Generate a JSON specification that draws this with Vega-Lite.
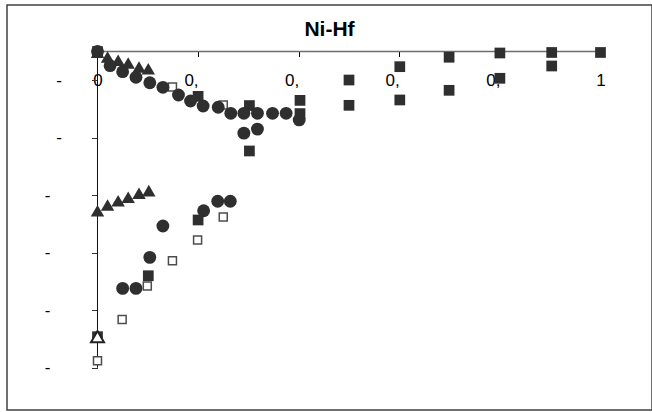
{
  "$schema": "https://vega.github.io/schema/vega-lite/v6.json",
  "width": 645,
  "height": 405,
  "autosize": {"type": "none"},
  "padding": {"left": 7, "top": 5, "right": 0, "bottom": 2},
  "background": "white",
  "title": {
    "text": "Ni-Hf",
    "font": "Liberation Sans",
    "fontSize": 21,
    "fontWeight": "bold",
    "color": "black",
    "anchor": "middle",
    "frame": "group",
    "baseline": "alphabetic",
    "offset": -30,
    "dy": 22
  },
  "config": {
    "view": {"stroke": "#404040", "strokeWidth": 1.5}
  },
  "datasets": {
    "xline": [{"x": 0, "x2": 1, "y": 0}],
    "yline": [{"x": 0, "y": 0, "y2": -55}],
    "sq": [
      {"x": 0, "y": 0}, {"x": 0.2, "y": -7.8}, {"x": 0.302, "y": -9.4}, {"x": 0.302, "y": -17.3},
      {"x": 0.4026, "y": -8.5}, {"x": 0.4026, "y": -10.8}, {"x": 0.5, "y": -4.96}, {"x": 0.5, "y": -9.36},
      {"x": 0.601, "y": -2.64}, {"x": 0.601, "y": -8.43}, {"x": 0.699, "y": -1.0}, {"x": 0.699, "y": -6.75},
      {"x": 0.8, "y": -0.26}, {"x": 0.8, "y": -4.66}, {"x": 0.903, "y": -0.17}, {"x": 0.903, "y": -2.52},
      {"x": 1.0, "y": -0.17}, {"x": 0.101, "y": -39.0}, {"x": 0.2, "y": -29.3}, {"x": 0, "y": -49.6}
    ],
    "osq": [
      {"x": 0.149, "y": -6.17}, {"x": 0.25, "y": -9.3}, {"x": 0, "y": -53.8}, {"x": 0.049, "y": -46.6},
      {"x": 0.099, "y": -40.8}, {"x": 0.149, "y": -36.4}, {"x": 0.199, "y": -32.8}, {"x": 0.25, "y": -28.8}
    ],
    "tri": [
      {"x": 0, "y": -0.1}, {"x": 0.02, "y": -0.96}, {"x": 0.041, "y": -1.53}, {"x": 0.061, "y": -2.0},
      {"x": 0.0825, "y": -2.7}, {"x": 0.101, "y": -3.0},
      {"x": 0, "y": -27.7}, {"x": 0.02, "y": -26.7}, {"x": 0.041, "y": -25.95}, {"x": 0.061, "y": -25.35},
      {"x": 0.0825, "y": -24.66}, {"x": 0.102, "y": -24.2}
    ],
    "circ": [
      {"x": 0, "y": 0}, {"x": 0.025, "y": -2.47}, {"x": 0.05, "y": -3.51}, {"x": 0.0765, "y": -4.49},
      {"x": 0.104, "y": -5.43}, {"x": 0.13, "y": -6.23}, {"x": 0.161, "y": -7.57}, {"x": 0.185, "y": -8.61},
      {"x": 0.21, "y": -9.48}, {"x": 0.24, "y": -9.7}, {"x": 0.265, "y": -10.75}, {"x": 0.291, "y": -10.75},
      {"x": 0.318, "y": -10.75}, {"x": 0.348, "y": -10.75}, {"x": 0.375, "y": -10.75}, {"x": 0.401, "y": -11.9},
      {"x": 0.291, "y": -14.2}, {"x": 0.318, "y": -13.5},
      {"x": 0.05, "y": -41.2}, {"x": 0.0765, "y": -41.2}, {"x": 0.104, "y": -35.8}, {"x": 0.13, "y": -30.35},
      {"x": 0.211, "y": -27.7}, {"x": 0.239, "y": -26.05}, {"x": 0.264, "y": -26.05}
    ],
    "otri": [
      {"x": 0, "y": -49.6}
    ]
  },
  "encoding": {
    "x": {
      "field": "x", "type": "quantitative",
      "scale": {"domain": [-0.17992, 1.10239], "nice": false, "zero": false},
      "axis": {
        "title": null, "grid": false, "domain": false,
        "orient": "bottom", "offset": -358.5,
        "values": [0, 0.2, 0.4, 0.6, 0.8, 1],
        "tickSize": 5, "tickColor": "black", "tickWidth": 1,
        "labelFont": "Liberation Sans", "labelFontSize": 17, "labelColor": "black",
        "labelPadding": 16, "labelFlush": false, "labelOverlap": false, "labelBound": false,
        "labelExpr": "datum.value == 0 ? '0' : (datum.value == 1 ? '1' : '0,')",
        "labelAlign": {"condition": {"test": "datum.value == 0 || datum.value == 1", "value": "center"}, "value": "right"}
      }
    },
    "y": {
      "field": "y", "type": "quantitative",
      "scale": {"domain": [-62.35, 8.087], "nice": false, "zero": false},
      "axis": {
        "title": null, "grid": false, "domain": false,
        "orient": "left", "offset": -90.5,
        "values": [-5, -15, -25, -35, -45, -55],
        "tickSize": 6, "tickColor": "#333333", "tickWidth": 1,
        "labelFont": "Liberation Sans", "labelFontSize": 17, "labelColor": "black",
        "labelAlign": "right", "labelBaseline": "middle",
        "labelFlush": false, "labelOverlap": false, "labelBound": false,
        "labelExpr": "'-'",
        "labelPadding": {"condition": {"test": "datum.value > -20", "value": 30}, "value": 41.5}
      }
    }
  },
  "layer": [
    {
      "data": {"name": "xline"},
      "mark": {"type": "rule", "color": "#6e6e6e", "strokeWidth": 1.5},
      "encoding": {"x2": {"field": "x2"}}
    },
    {
      "data": {"name": "yline"},
      "mark": {"type": "rule", "color": "#111111", "strokeWidth": 1},
      "encoding": {"y2": {"field": "y2"}}
    },
    {
      "data": {"name": "sq"},
      "mark": {"type": "point", "shape": "square", "size": 115, "filled": true, "color": "#2f2f2f", "opacity": 1}
    },
    {
      "data": {"name": "osq"},
      "mark": {"type": "point", "shape": "square", "size": 64, "filled": false, "fill": "white", "stroke": "#4d4d4d", "strokeWidth": 1.5, "opacity": 1}
    },
    {
      "data": {"name": "tri"},
      "mark": {"type": "point", "shape": "triangle-up", "size": 180, "filled": true, "color": "#2f2f2f", "opacity": 1}
    },
    {
      "data": {"name": "circ"},
      "mark": {"type": "point", "shape": "circle", "size": 165, "filled": true, "color": "#2f2f2f", "opacity": 1}
    },
    {
      "data": {"name": "otri"},
      "mark": {"type": "point", "shape": "triangle-up", "size": 170, "filled": false, "fill": "white", "stroke": "#222222", "strokeWidth": 2, "opacity": 1}
    }
  ]
}
